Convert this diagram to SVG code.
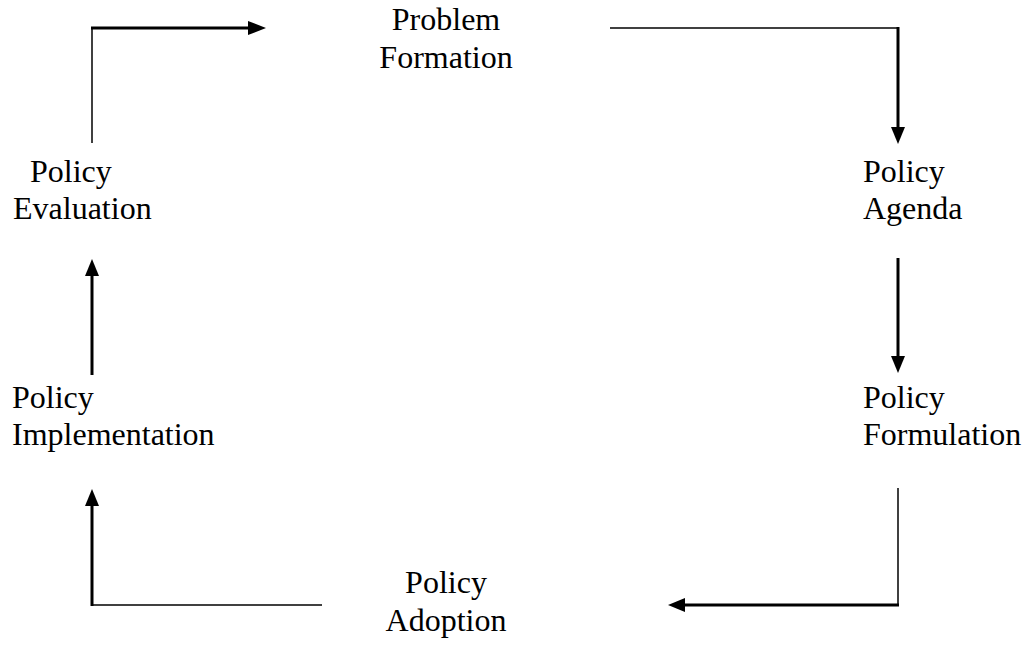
<svg xmlns="http://www.w3.org/2000/svg" width="1031" height="647" viewBox="0 0 1031 647">
<style>
text{font-family:"Liberation Serif","Times New Roman",serif;font-size:32px;fill:#000}
.thin{stroke:#000;stroke-width:1.5;fill:none}
.thick{stroke:#000;stroke-width:3;fill:none}
.head{fill:#000;stroke:none}
</style>
<rect width="1031" height="647" fill="#fff"/>
<g id="connectors">
<line class="thin" x1="92" y1="143" x2="92" y2="28"/>
<line class="thick" x1="91" y1="28" x2="250" y2="28"/>
<polygon class="head" points="266,28 248,21 248,35"/>
<line class="thin" x1="610" y1="28" x2="898" y2="28"/>
<line class="thick" x1="898" y1="27" x2="898" y2="130"/>
<polygon class="head" points="898,144 891,127 905,127"/>
<line class="thick" x1="898" y1="258" x2="898" y2="360"/>
<polygon class="head" points="898,373 891,356 905,356"/>
<line class="thin" x1="898" y1="488" x2="898" y2="605"/>
<line class="thick" x1="899" y1="605" x2="682" y2="605"/>
<polygon class="head" points="668,605 685,598 685,612"/>
<line class="thin" x1="322" y1="605" x2="92" y2="605"/>
<line class="thick" x1="92" y1="606" x2="92" y2="503"/>
<polygon class="head" points="92,489 85,506 99,506"/>
<line class="thick" x1="92" y1="375" x2="92" y2="273"/>
<polygon class="head" points="92,259 85,276 99,276"/>
</g>
<g id="problem-formation">
<text x="446" y="30" text-anchor="middle">Problem</text>
<text x="446" y="68" text-anchor="middle">Formation</text>
</g>
<g id="policy-agenda">
<text x="863" y="182">Policy</text>
<text x="863" y="219">Agenda</text>
</g>
<g id="policy-formulation">
<text x="863" y="408">Policy</text>
<text x="863" y="445">Formulation</text>
</g>
<g id="policy-adoption">
<text x="446" y="593" text-anchor="middle">Policy</text>
<text x="446" y="631" text-anchor="middle">Adoption</text>
</g>
<g id="policy-implementation">
<text x="12" y="408">Policy</text>
<text x="12" y="445">Implementation</text>
</g>
<g id="policy-evaluation">
<text x="30" y="182">Policy</text>
<text x="13" y="219">Evaluation</text>
</g>
</svg>
